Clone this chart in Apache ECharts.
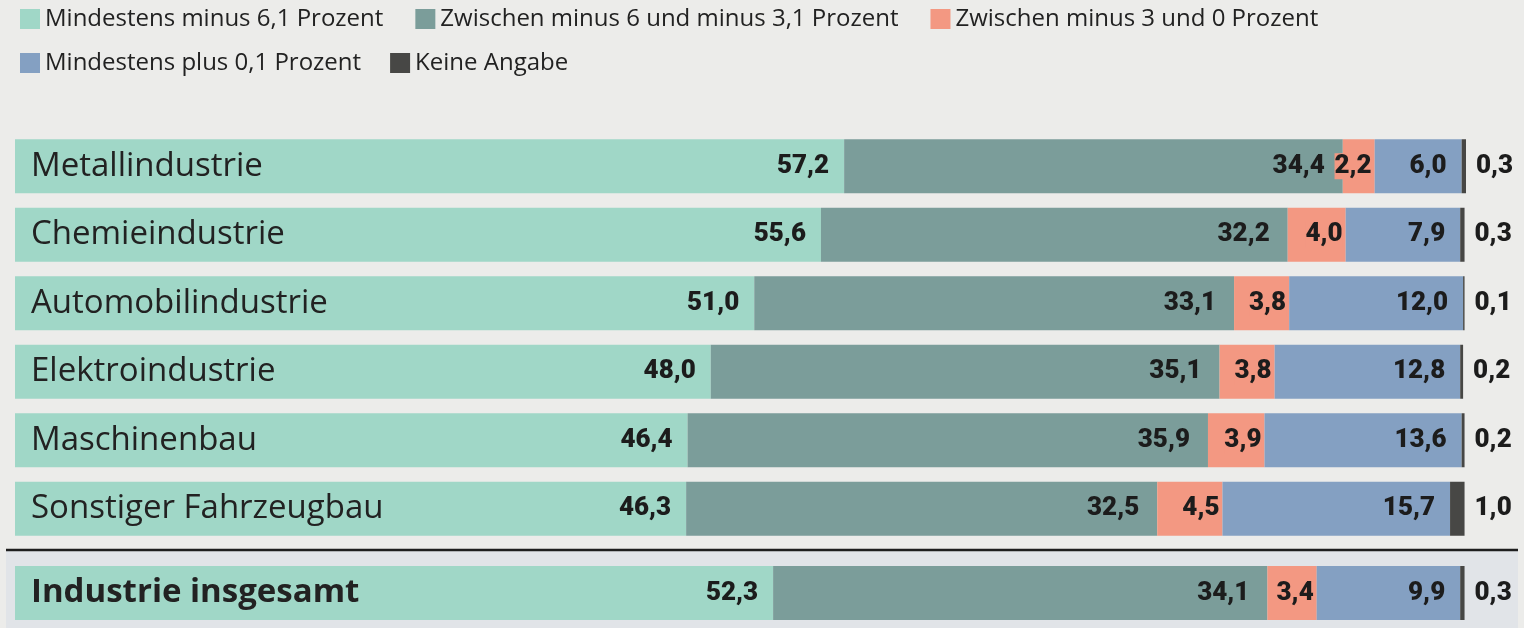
<!DOCTYPE html>
<html>
<head>
<meta charset="utf-8">
<script src="https://cdn.jsdelivr.net/npm/echarts@6/dist/echarts.min.js"></script>
<style>
  html, body { margin: 0; padding: 0; background: #ececea; }
  #chart { width: 1524px; height: 628px; }
</style>
</head>
<body>
<div id="chart"></div>
<script>
// Kategorien (letzte Zeile = Gesamt)
const categories = [
  "Metallindustrie",
  "Chemieindustrie",
  "Automobilindustrie",
  "Elektroindustrie",
  "Maschinenbau",
  "Sonstiger Fahrzeugbau",
  "Industrie insgesamt"
];
const seriesNames = [
  "Mindestens minus 6,1 Prozent",
  "Zwischen minus 6 und minus 3,1 Prozent",
  "Zwischen minus 3 und 0 Prozent",
  "Mindestens plus 0,1 Prozent",
  "Keine Angabe"
];
const minus6 = [57.2, 55.6, 51.0, 48.0, 46.4, 46.3, 52.3];
const minus3 = [34.4, 32.2, 33.1, 35.1, 35.9, 32.5, 34.1];
const zero = [2.2, 4.0, 3.8, 3.8, 3.9, 4.5, 3.4];
const plus = [6.0, 7.9, 12.0, 12.8, 13.6, 15.7, 9.9];
const noAnswer = [0.3, 0.3, 0.1, 0.2, 0.2, 1.0, 0.3];

const colors = ["#a0d7c7", "#7b9d9a", "#f39882", "#84a0c2", "#474745"];
const labelDist = [15, 18, 3, 15];
const valueFont = { fontFamily: "Roboto", fontWeight: 900, fontSize: 26, color: "#1c1c1c" };

const fmt = p => p.value.toFixed(1).replace(".", ",");

const chart = echarts.init(document.getElementById("chart"));

// baut die 5 gestapelten Serien fuer ein Grid
function buildSeries(gridIdx, from, to) {
  const all = [minus6, minus3, zero, plus, noAnswer];
  return all.map((arr, i) => {
    const last = i === 4;
    return {
      name: seriesNames[i],
      type: "bar",
      stack: "s" + gridIdx,
      xAxisIndex: gridIdx,
      yAxisIndex: gridIdx,
      barWidth: 54,
      itemStyle: { color: colors[i] },
      data: arr.slice(from, to),
      label: last
        ? Object.assign({ show: true, position: "right", distance: 10, formatter: fmt }, valueFont)
        : Object.assign({
            show: true,
            position: "insideRight",
            distance: labelDist[i],
            formatter: fmt,
            backgroundColor: i === 2 ? colors[2] : "transparent"
          }, valueFont)
    };
  });
}

const yLabel = {
  inside: true,
  margin: 16,
  fontFamily: "Open Sans",
  fontSize: 33,
  color: "#222"
};

const legendText = { fontFamily: "Open Sans", fontSize: 24, color: "#222" };

chart.setOption({
  backgroundColor: "#ececea",
  animation: false,
  color: colors,
  legend: [
    {
      data: seriesNames.slice(0, 3),
      left: 15, top: 2,
      icon: "rect", itemWidth: 20, itemHeight: 20, itemGap: 32,
      textStyle: legendText
    },
    {
      data: seriesNames.slice(3),
      left: 15, top: 46,
      icon: "rect", itemWidth: 20, itemHeight: 20, itemGap: 29,
      textStyle: legendText
    }
  ],
  graphic: [
    { type: "rect", z: 0, shape: { x: 6, y: 551, width: 1512, height: 77 }, style: { fill: "#e1e4e8" } },
    { type: "line", z: 0, shape: { x1: 6, y1: 550, x2: 1518, y2: 550 }, style: { stroke: "#1e1e1e", lineWidth: 2.5 } }
  ],
  grid: [
    { left: 15, right: 58, top: 132, height: 411 },
    { left: 15, right: 58, top: 566, height: 54 }
  ],
  xAxis: [0, 1].map(g => ({
    type: "value", gridIndex: g, min: 0, max: 100.1, show: false
  })),
  yAxis: [
    {
      type: "category", gridIndex: 0, inverse: true, z: 10,
      data: categories.slice(0, 6),
      axisLine: { show: false }, axisTick: { show: false },
      axisLabel: yLabel
    },
    {
      type: "category", gridIndex: 1, z: 10,
      data: categories.slice(6),
      axisLine: { show: false }, axisTick: { show: false },
      axisLabel: Object.assign({}, yLabel, { fontWeight: "bold" })
    }
  ],
  series: buildSeries(0, 0, 6).concat(buildSeries(1, 6, 7))
});
</script>
</body>
</html>
